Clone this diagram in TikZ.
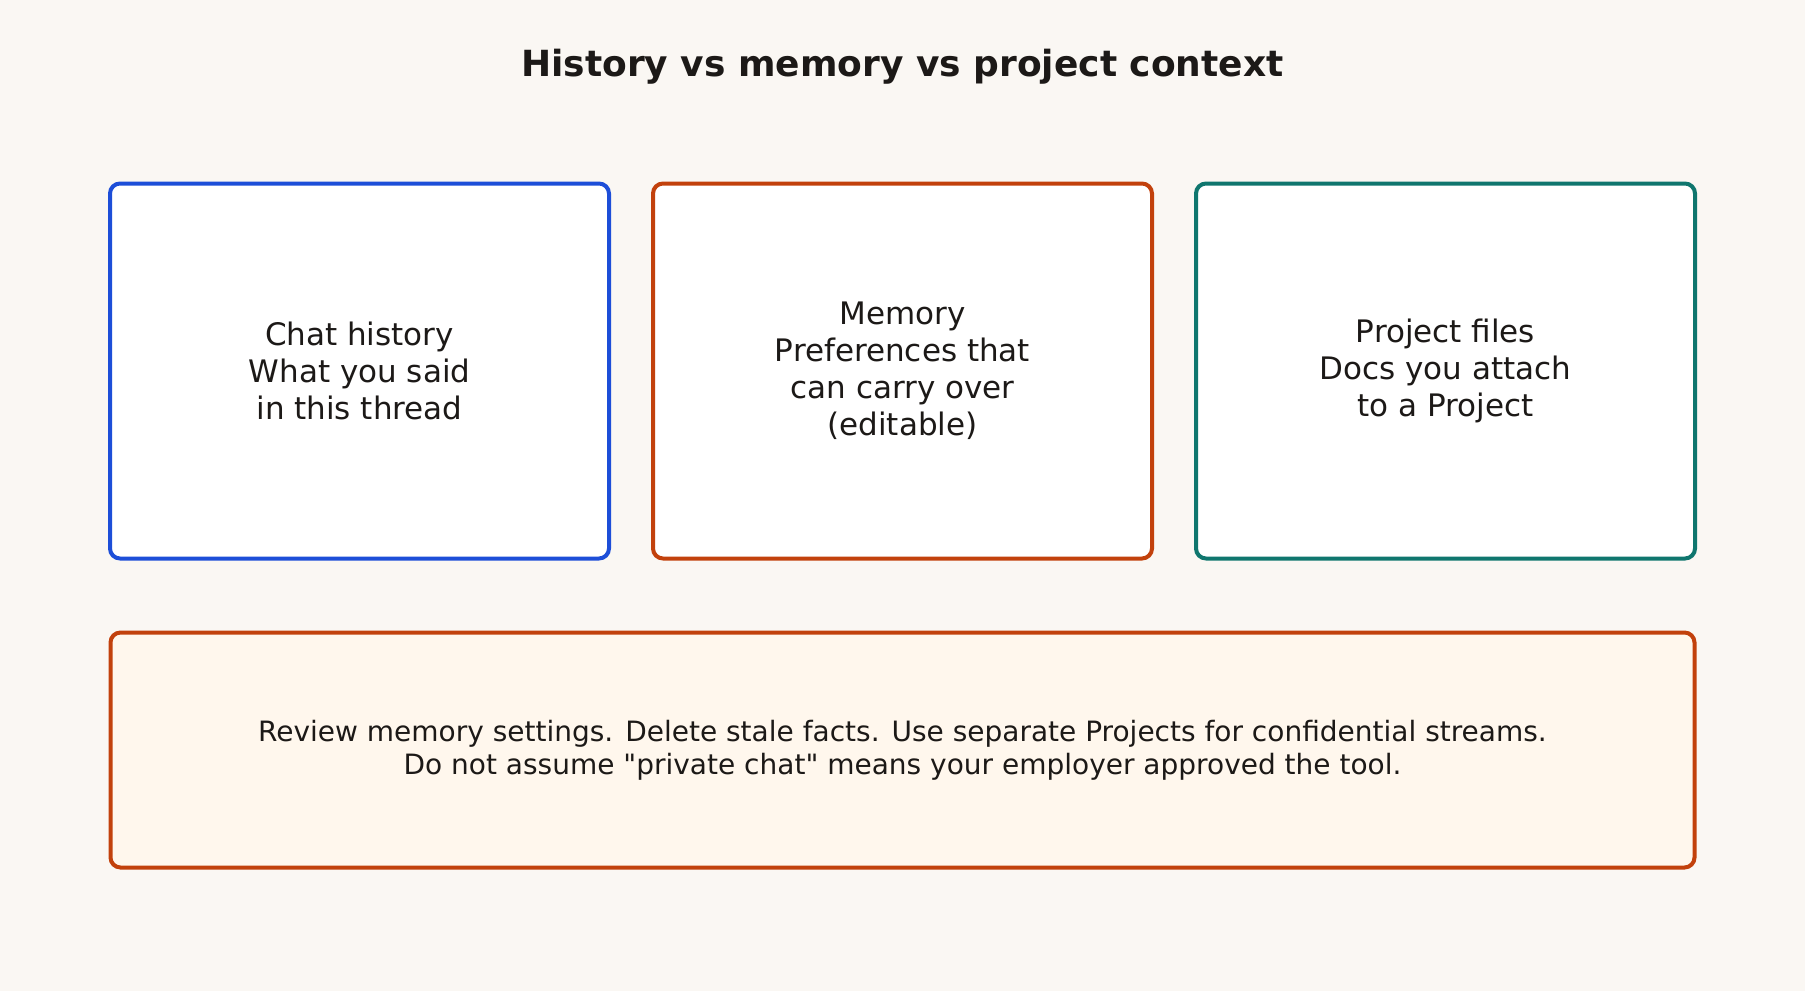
\documentclass[tikz,border=0pt]{standalone}
\usepackage{fontspec}
\setmainfont{DejaVu Sans}
\usetikzlibrary{positioning}
\definecolor{paper}{HTML}{FAF7F3}
\definecolor{ink}{HTML}{1C1917}
\definecolor{histblue}{HTML}{1D4ED8}
\definecolor{memorange}{HTML}{C2410C}
\definecolor{projteal}{HTML}{0F766E}
\definecolor{notefill}{HTML}{FFF7ED}
\tikzset{
  ctxbox/.style={
    rectangle, rounded corners=5pt, draw=#1, fill=white, line width=2pt,
    minimum width=249.5pt, minimum height=187.5pt,
    font=\fontsize{15.5}{18.5}\selectfont, text=ink, align=center
  },
  ctxbox/.default=histblue,
  notebox/.style={
    rectangle, rounded corners=5pt, draw=memorange, fill=notefill, line width=2pt,
    minimum width=792pt, minimum height=117.5pt,
    font=\fontsize{14}{16.7}\selectfont, text=ink, align=center
  },
  titlenode/.style={
    font=\fontsize{18}{21}\selectfont\bfseries, text=ink
  },
}
\begin{document}
\begin{tikzpicture}[x=0.5pt, y=-0.5pt, node distance=20pt and 20pt]
  \fill[paper] (0,0) rectangle (1805,991);
  \node[titlenode] (title) at (902.5,67) {History vs memory vs project context};
  \node[ctxbox=histblue] (history) at (359.5,371) {Chat history\\What you said\\in this thread};
  \node[ctxbox=memorange, right=of history] (memory) {Memory\\Preferences that\\can carry over\\(editable)};
  \node[ctxbox=projteal, right=of memory] (project) {Project files\\Docs you attach\\to a Project};
  \node[notebox, below=35pt of memory] (advice) {Review memory settings. Delete stale facts. Use separate Projects for confidential streams.\\Do not assume \textquotedbl private chat\textquotedbl{} means your employer approved the tool.};
\end{tikzpicture}
\end{document}
